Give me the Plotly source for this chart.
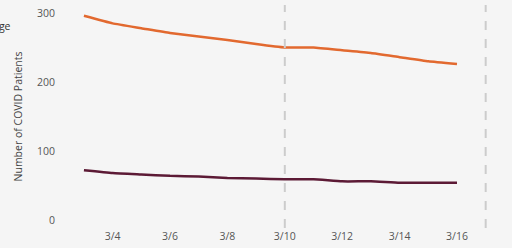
import plotly.graph_objects as go

dates = ["2020-03-03", "2020-03-04", "2020-03-05", "2020-03-06", "2020-03-07",
         "2020-03-08", "2020-03-09", "2020-03-10", "2020-03-11", "2020-03-12",
         "2020-03-13", "2020-03-14", "2020-03-15", "2020-03-16"]
series_a = [296, 285, 278, 271, 266, 261, 255, 250, 250, 246, 242, 236, 230, 226]
series_b = [72, 68, 66, 64, 63, 61, 60, 59, 59, 56, 56, 54, 54, 54]
marker_dates = ["2020-03-10", "2020-03-17"]
y_ticks = [0, 100, 200, 300]

fig = go.Figure()
fig.add_trace(go.Scatter(x=dates, y=series_a, mode="lines",
                         line=dict(color="#E2692F", width=2.5, shape="spline", smoothing=0.4),
                         showlegend=False))
fig.add_trace(go.Scatter(x=dates, y=series_b, mode="lines",
                         line=dict(color="#5C1A35", width=2.5, shape="spline", smoothing=0.4),
                         showlegend=False))

for d in marker_dates:
    fig.add_shape(type="line", xref="x", yref="paper", x0=d, x1=d, y0=0, y1=1,
                  line=dict(color="#cccccc", width=2, dash="dash"))

fig.add_annotation(text="Average", xref="paper", yref="paper", x=-0.104, y=0.905,
                   xanchor="right", yanchor="middle", showarrow=False,
                   font=dict(size=10.5, color="#333333"))

fig.update_layout(
    width=512, height=248,
    margin=dict(l=60, r=0, t=5, b=20),
    paper_bgcolor="#f5f5f5", plot_bgcolor="#f5f5f5",
    font=dict(family="Open Sans, sans-serif", size=10, color="#555555"),
    xaxis=dict(type="date", range=["2020-03-02 04:00", "2020-03-17 22:00"],
               tickformat="%-m/%-d", dtick=2 * 86400000, tick0="2020-03-04",
               showgrid=False, zeroline=False, showline=False, ticks="",
               tickfont=dict(size=10.5, color="#555555")),
    yaxis=dict(range=[-11.6, 311.6], tickvals=y_ticks, showgrid=False,
               zeroline=False, showline=False, ticks="",
               ticklabelstandoff=4,
               tickfont=dict(size=10.5, color="#555555"),
               title=dict(text="Number of COVID Patients", standoff=12,
                          font=dict(size=10.5, color="#444444"))),
)

fig.write_html("out.html", config={"displayModeBar": False},
               post_script="document.body.style.margin='0';document.body.style.overflow='hidden';")
